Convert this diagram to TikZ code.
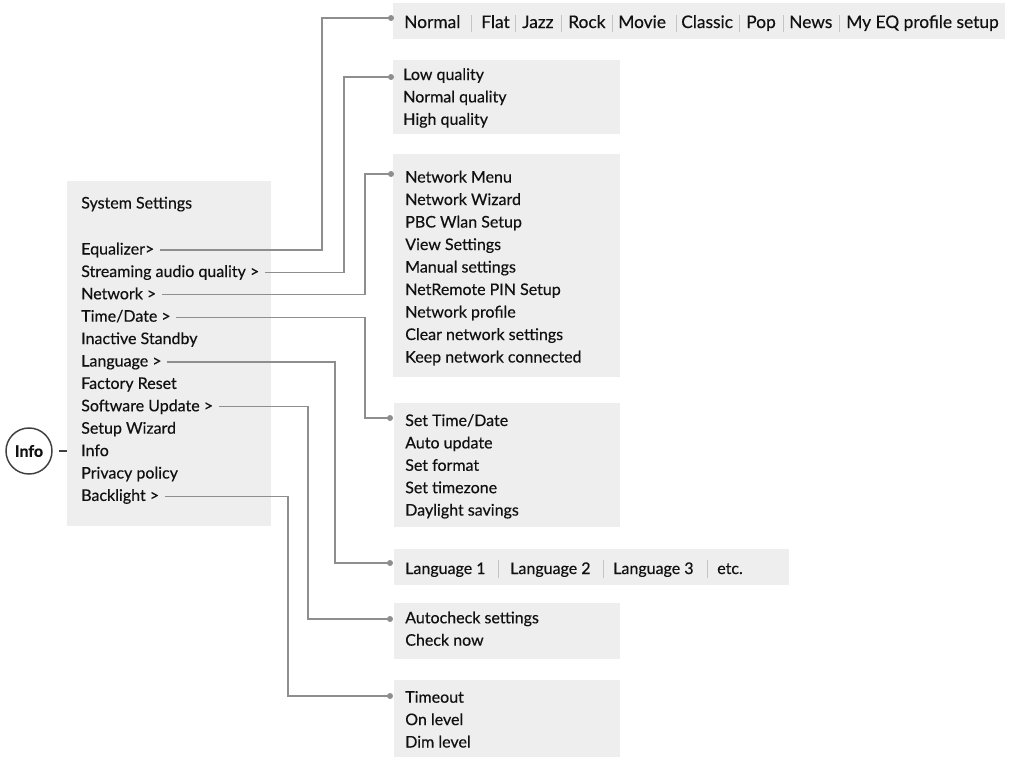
\documentclass[tikz,border=0pt]{standalone}
\usepackage{fontspec}
\setmainfont{Lato}[FakeBold=0.35]
\usetikzlibrary{fit}
\definecolor{boxgray}{HTML}{EEEEEE}
\definecolor{linegray}{HTML}{8E8E8E}
\definecolor{sepgray}{HTML}{C4C4C4}
\definecolor{txt}{HTML}{111111}
\definecolor{circ}{HTML}{404040}
\begin{document}
\begin{tikzpicture}[x=0.75pt,y=-0.75pt,
  every node/.style={font=\fontsize{12pt}{16.8pt}\selectfont, text=txt},
  item/.style={anchor=base west, inner sep=0pt, text height=8.25pt, text depth=1.5pt},
  bigitem/.style={item, font=\fontsize{13pt}{16.8pt}\selectfont},
  panel/.style={fill=boxgray, draw=none, inner sep=0pt},
  conn/.style={draw=linegray, line width=1pt},
  sepline/.style={draw=sepgray, line width=0.6pt},
  dotmark/.style={circle, fill=linegray, inner sep=0pt, minimum size=4.5pt}]

\useasboundingbox[fill=white] (0,0) rectangle (1014,757);

% panels
\node[panel, fit={(67,181) (271,526)}] (mainbox) {};
\node[panel, fit={(393,3) (1005,39)}] (peq) {};
\node[panel, fit={(393,60) (620,134)}] (pq) {};
\node[panel, fit={(393,154) (620,377)}] (pnet) {};
\node[panel, fit={(394,403) (620,527)}] (ptd) {};
\node[panel, fit={(394,549) (789,585)}] (plang) {};
\node[panel, fit={(394,603) (620,659)}] (psw) {};
\node[panel, fit={(394,680) (620,757)}] (pbl) {};

% main menu
\node[item] (ss)   at (81,208.5) {System Settings};
\node[item] (eq)   at (81,254.5) {Equalizer>};
\node[item] (saq)  at (81,277)   {Streaming audio quality >};
\node[item] (net)  at (81,299.3) {Network >};
\node[item] (td)   at (81,321.7) {Time/Date >};
\node[item] (ist)  at (81,344.1) {Inactive Standby};
\node[item] (lang) at (81,366.5) {Language >};
\node[item] (fr)   at (81,388.9) {Factory Reset};
\node[item] (sw)   at (81,411.3) {Software Update >};
\node[item] (swz)  at (81,433.7) {Setup Wizard};
\node[item] (inf)  at (81,456.1) {Info};
\node[item] (pp)   at (81,478.5) {Privacy policy};
\node[item] (bl)   at (81,500.9) {Backlight >};

% info circle
\node[circle, draw=circ, line width=1.1pt, minimum size=34.5pt, inner sep=0pt,
      font=\fontsize{12pt}{13pt}\selectfont\bfseries] (infoc) at (29,451) {Info};
\draw[draw=circ, line width=0.9pt] ([xshift=4.5pt]infoc.east) -- (infoc.east -| mainbox.west);

% equalizer row
\foreach \t/\x [count=\i] in {Normal/404, Flat/481, Jazz/522, Rock/568, Movie/618, Classic/681, Pop/746, News/789, My EQ profile setup/846}
  \node[bigitem] (e\i) at (\x,28) {\t};
\foreach \x in {471,515,561,612,676,739,783,839}
  \draw[sepline] (\x,15) -- (\x,32);

\node[item] (q1) at (403,80)    {Low quality};
\node[item] (q2) at (403,102.4) {Normal quality};
\node[item] (q3) at (403,124.8) {High quality};

\foreach \t [count=\i from 0] in {Network Menu, Network Wizard, PBC Wlan Setup, View Settings, Manual settings, NetRemote PIN Setup, Network profile, Clear network settings, Keep network connected}
  \node[item] (n\i) at (405,182.5+22.5*\i) {\t};

\foreach \t [count=\i from 0] in {Set Time/Date, Auto update, Set format, Set timezone, Daylight savings}
  \node[item] (t\i) at (405,426+22.4*\i) {\t};

% language row
\foreach \t/\x [count=\i] in {Language 1/405, Language 2/510, Language 3/613, etc./717}
  \node[item] (l\i) at (\x,574) {\t};
\foreach \x in {498,603,707}
  \draw[sepline] (\x,560) -- (\x,578);

\node[item] (s1) at (405,623.3) {Autocheck settings};
\node[item] (s2) at (405,645.7) {Check now};

\node[item] (b1) at (405,702.7) {Timeout};
\node[item] (b2) at (405,725.1) {On level};
\node[item] (b3) at (405,747.5) {Dim level};

% dots
\node[dotmark] (d1) at (391,18) {};
\node[dotmark] (d2) at (391,77) {};
\node[dotmark] (d3) at (391,174) {};
\node[dotmark] (d4) at (390,418) {};
\node[dotmark] (d5) at (390,563) {};
\node[dotmark] (d6) at (390,619) {};
\node[dotmark] (d7) at (390,696) {};

% connectors
\draw[conn] ([xshift=4pt]eq.east)   -| (322,18)  -- (d1.center);
\draw[conn] ([xshift=4pt]saq.east)  -| (344,77)  -- (d2.center);
\draw[conn] ([xshift=4pt]net.east)  -| (365,174) -- (d3.center);
\draw[conn] ([xshift=4pt]td.east)   -| (365,418) -- (d4.center);
\draw[conn] ([xshift=4pt]lang.east) -| (335,563) -- (d5.center);
\draw[conn] ([xshift=4pt]sw.east)   -| (308,619) -- (d6.center);
\draw[conn] ([xshift=4pt]bl.east)   -| (288,696) -- (d7.center);
\end{tikzpicture}
\end{document}
